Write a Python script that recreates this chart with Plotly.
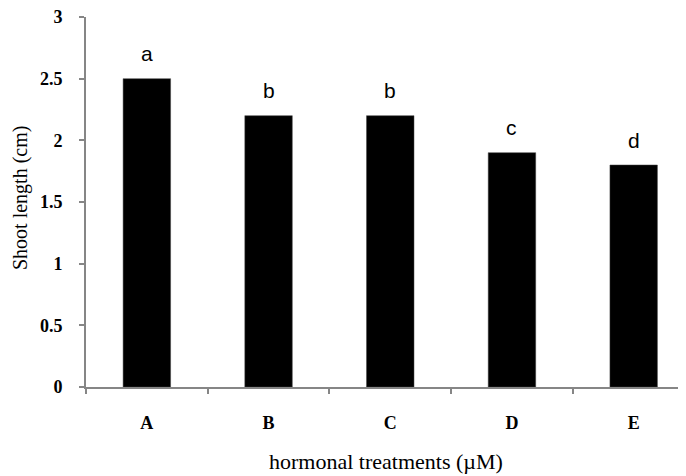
import plotly.graph_objects as go

categories = ["A", "B", "C", "D", "E"]
shoot_length = [2.5, 2.2, 2.2, 1.9, 1.8]
group_letters = ["a", "b", "b", "c", "d"]
y_ticks = [0, 0.5, 1, 1.5, 2, 2.5, 3]
y_tick_labels = ["0", "0.5", "1", "1.5", "2", "2.5", "3"]

axis_grey = "#868686"
serif = "Liberation Serif, Times New Roman, serif"

fig = go.Figure()
fig.add_trace(go.Bar(
    x=categories, y=shoot_length, width=0.39,
    marker=dict(color="black", line=dict(color="#404040", width=0.5)),
    hoverinfo="skip",
))

annotations = []
for c, v, t in zip(categories, shoot_length, group_letters):
    annotations.append(dict(
        x=c, y=v, xref="x", yref="y", text=t, showarrow=False,
        yanchor="middle", xanchor="center", yshift=25,
        font=dict(family="Liberation Sans, Arial, sans-serif", size=21, color="black"),
    ))
annotations.append(dict(
    x=0.5, y=0, xref="paper", yref="paper", text="hormonal treatments (\u00b5M)",
    showarrow=False, xanchor="center", yanchor="middle", yshift=-74,
    font=dict(family=serif, size=22, color="black"),
))
annotations.append(dict(
    x=0, y=0.5, xref="paper", yref="paper", text="Shoot length (cm)",
    showarrow=False, xanchor="center", yanchor="middle", xshift=-66, yshift=4, textangle=-90,
    font=dict(family=serif, size=20, color="black"),
))

fig.update_layout(
    width=678, height=468,
    margin=dict(l=78, r=0, t=9, b=89),
    paper_bgcolor="white", plot_bgcolor="white",
    showlegend=False,
    annotations=annotations,
    xaxis=dict(
        type="category", range=[-0.5, 4.43],
        showline=True, linecolor=axis_grey, linewidth=2,
        ticks="outside", tickson="boundaries", ticklen=5, tickcolor=axis_grey, tickwidth=1.5,
        showgrid=False, zeroline=False,
        tickfont=dict(family=serif, size=18, color="black", weight="bold"),
        ticklabelstandoff=18,
    ),
    yaxis=dict(
        range=[0, 3], tickmode="array", tickvals=y_ticks, ticktext=y_tick_labels,
        showline=True, linecolor=axis_grey, linewidth=2,
        ticks="outside", ticklen=5, tickcolor=axis_grey, tickwidth=1.5,
        showgrid=False, zeroline=False,
        tickfont=dict(family=serif, size=18, color="black", weight="bold"),
        ticklabelstandoff=13, ticklabeloverflow="allow",
    ),
)

fig.write_html("out.html")
